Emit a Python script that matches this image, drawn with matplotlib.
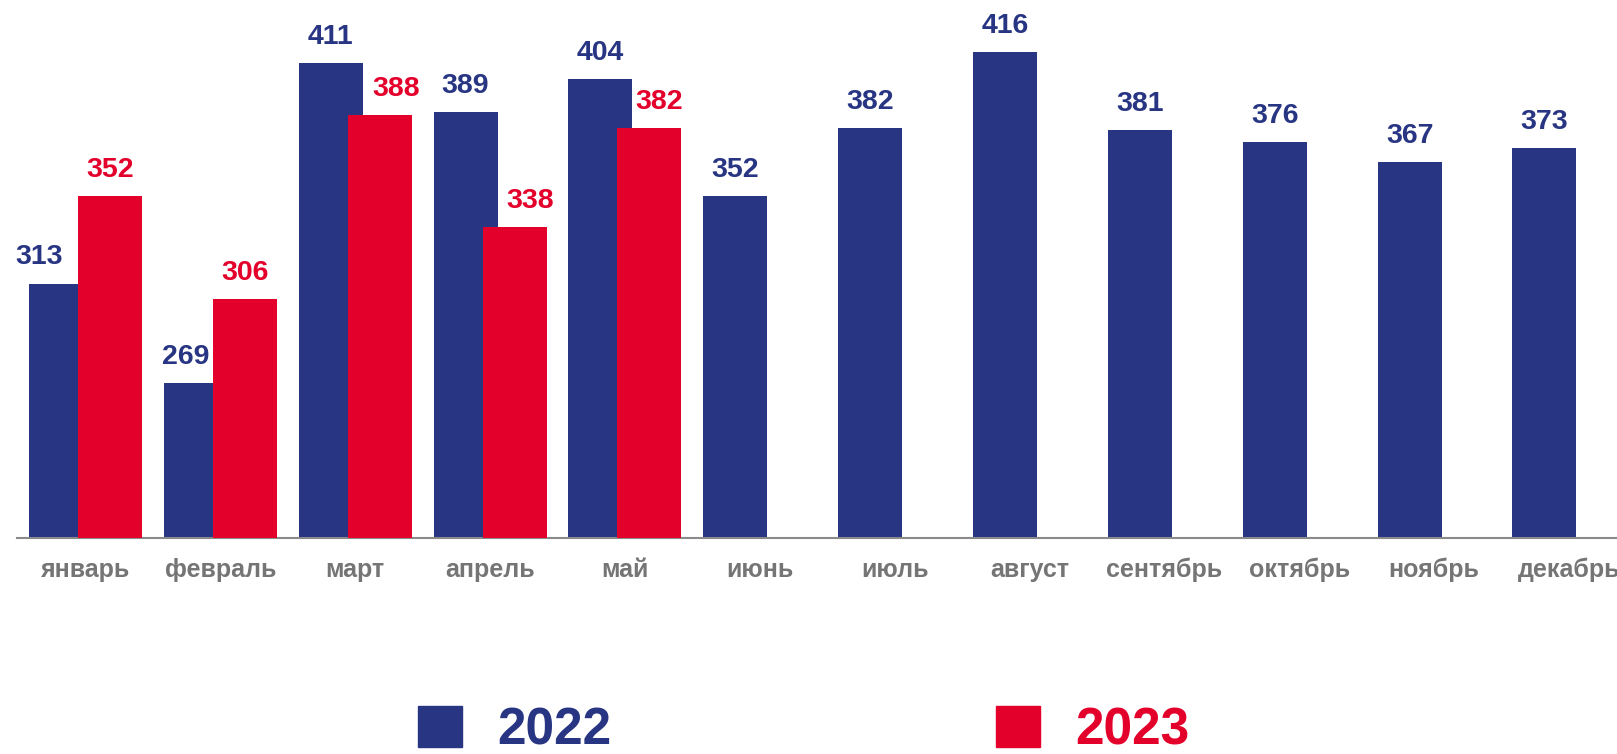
import matplotlib
matplotlib.use("Agg")

import matplotlib.pyplot as plt
from matplotlib.patches import Patch


months = [
    "январь", "февраль", "март", "апрель", "май", "июнь",
    "июль", "август", "сентябрь", "октябрь", "ноябрь", "декабрь"
]

values_2022 = [313, 269, 411, 389, 404, 352, 382, 416, 381, 376, 367, 373]
values_2023 = [352, 306, 388, 338, 382]

# label nudges in pixels (the source moved a few labels sideways)
nudge_2022 = [-22, -10, 0, 0, 0, 0, 0, 0, 0, 0, 0, 0]
nudge_2023 = [0, 0, 16, 16, 10]

BLUE = "#283583"
RED = "#E3002B"
GREY = "#757575"

plt.rcParams["font.family"] = ["Liberation Sans", "DejaVu Sans"]

fig = plt.figure(figsize=(16.17, 7.54), dpi=100)
ax = fig.add_axes([17 / 1617, 216 / 754, 1600 / 1617, 538 / 754])

shift = 0.1817
width = 0.4746

x22 = [i - shift for i in range(len(values_2022))]
x23 = [i + shift for i in range(len(values_2023))]

ax.bar(x22, [v - 200 for v in values_2022], width, bottom=200, color=BLUE, zorder=2)
ax.bar(x23, [v - 200 for v in values_2023], width, bottom=200, color=RED, zorder=3)

for x, v, dx in zip(x22, values_2022, nudge_2022):
    ax.annotate(str(v), (x, v), xytext=(dx * 0.72, 13.7), textcoords="offset points",
                ha="center", va="baseline", fontsize=20.5, fontweight="bold", color=BLUE)

for x, v, dx in zip(x23, values_2023, nudge_2023):
    ax.annotate(str(v), (x, v), xytext=(dx * 0.72, 13.7), textcoords="offset points",
                ha="center", va="baseline", fontsize=20.5, fontweight="bold", color=RED)

ax.set_xlim(-0.508, 11.356)
ax.set_ylim(200, 438.9)

ax.set_xticks(range(len(months)), months)
ax.tick_params(axis="x", length=0, pad=14.4, labelsize=18, labelcolor=GREY)
for lab in ax.get_xticklabels():
    lab.set_fontweight("bold")
ax.set_yticks([])

for side in ["top", "right", "left"]:
    ax.spines[side].set_visible(False)
ax.spines["bottom"].set_color("#8a8a8a")
ax.spines["bottom"].set_linewidth(1.5)

handles = [Patch(color=BLUE, label="2022"), Patch(color=RED, label="2023")]
fig.legend(handles=handles, loc="center left", bbox_to_anchor=(418 / 1617, 23 / 754),
           ncol=2, frameon=False, borderpad=0, borderaxespad=0,
           handlelength=0.856, handleheight=0.856, handletextpad=0.68,
           columnspacing=7.49, labelcolor=[BLUE, RED],
           prop={"weight": "bold", "size": 37})

fig.savefig("out.png", dpi=100)
plt.close(fig)
